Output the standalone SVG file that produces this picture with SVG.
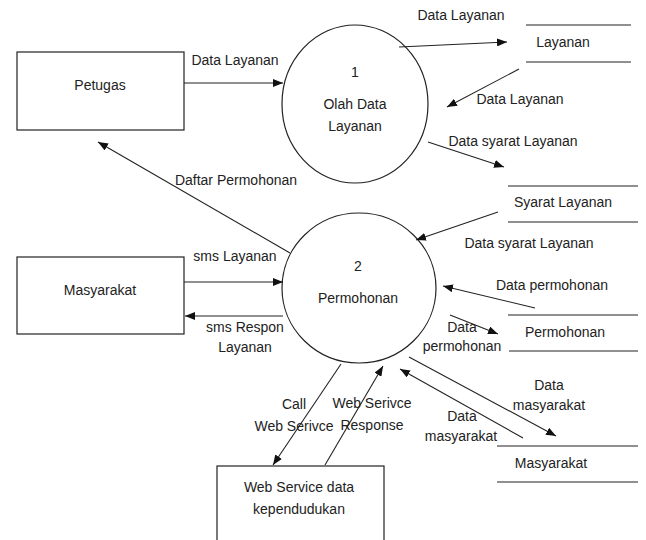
<svg xmlns="http://www.w3.org/2000/svg" width="646" height="540" viewBox="0 0 646 540">
  <style>
    .shape { fill: #fff; stroke: #222; stroke-width: 1.2; }
    .store { stroke: #222; stroke-width: 1.2; fill: none; }
    .flow { stroke: #222; stroke-width: 1.1; fill: none; marker-end: url(#arrow); }
    text { font-family: "Liberation Sans", Arial, sans-serif; font-size: 14px; fill: #222; text-anchor: middle; }
  </style>
  <defs>
    <marker id="arrow" viewBox="0 0 10 8" refX="10" refY="4" markerWidth="10" markerHeight="8" markerUnits="userSpaceOnUse" orient="auto">
      <path d="M0,0 L10,4 L0,8 Z" fill="#111"/>
    </marker>
  </defs>
  <rect width="646" height="540" fill="#fff"/>

  <!-- external entities -->
  <g id="petugas">
    <rect class="shape" x="17" y="52" width="167" height="78"/>
    <text x="100" y="90">Petugas</text>
  </g>
  <g id="masyarakat">
    <rect class="shape" x="17" y="257" width="167" height="77"/>
    <text x="100" y="295">Masyarakat</text>
  </g>
  <g id="web-service">
    <rect class="shape" x="217" y="466" width="167" height="90"/>
    <text x="299" y="492">Web Service data</text>
    <text x="299" y="514">kependudukan</text>
  </g>

  <!-- processes -->
  <g id="proses-1">
    <ellipse class="shape" cx="355" cy="104" rx="73" ry="79"/>
    <text x="355" y="77">1</text>
    <text x="355" y="109">Olah Data</text>
    <text x="355" y="131">Layanan</text>
  </g>
  <g id="proses-2">
    <ellipse class="shape" cx="359" cy="288" rx="77" ry="75"/>
    <text x="358" y="271">2</text>
    <text x="358" y="303">Permohonan</text>
  </g>

  <!-- data stores -->
  <g id="store-layanan">
    <path class="store" d="M526,25 H631 M526,62 H631"/>
    <text x="563" y="47">Layanan</text>
  </g>
  <g id="store-syarat">
    <path class="store" d="M508,186 H638 M508,222 H638"/>
    <text x="563" y="207">Syarat Layanan</text>
  </g>
  <g id="store-permohonan">
    <path class="store" d="M508,315 H638 M509,351 H638"/>
    <text x="565" y="337">Permohonan</text>
  </g>
  <g id="store-masyarakat">
    <path class="store" d="M497,446 H638 M497,482 H638"/>
    <text x="551" y="468">Masyarakat</text>
  </g>

  <!-- data flows -->
  <g id="connectors">
    <line class="flow" x1="184" y1="83" x2="283" y2="83"/>
    <line class="flow" x1="399" y1="47" x2="507" y2="42"/>
    <line class="flow" x1="519" y1="69" x2="447" y2="107"/>
    <line class="flow" x1="428" y1="142" x2="504" y2="167"/>
    <line class="flow" x1="498" y1="212" x2="416" y2="240"/>
    <line class="flow" x1="290" y1="253" x2="98" y2="142"/>
    <line class="flow" x1="184" y1="282" x2="283" y2="282"/>
    <line class="flow" x1="283" y1="316" x2="185" y2="316"/>
    <line class="flow" x1="535" y1="308" x2="443" y2="286"/>
    <line class="flow" x1="450" y1="315" x2="498" y2="334"/>
    <line class="flow" x1="341" y1="364" x2="273" y2="465"/>
    <line class="flow" x1="325" y1="465" x2="383" y2="366"/>
    <line class="flow" x1="409" y1="357" x2="556" y2="436"/>
    <line class="flow" x1="523" y1="438" x2="400" y2="369"/>

    <text x="235" y="65">Data Layanan</text>
    <text x="461" y="20">Data Layanan</text>
    <text x="520" y="104">Data Layanan</text>
    <text x="513" y="146">Data syarat Layanan</text>
    <text x="529" y="248">Data syarat Layanan</text>
    <text x="236" y="185">Daftar Permohonan</text>
    <text x="235" y="261">sms Layanan</text>
    <text x="245" y="332">sms Respon</text>
    <text x="245" y="352">Layanan</text>
    <text x="552" y="290">Data permohonan</text>
    <text x="462" y="332">Data</text>
    <text x="462" y="351">permohonan</text>
    <text x="294" y="409">Call</text>
    <text x="294" y="431">Web Serivce</text>
    <text x="372" y="408">Web Serivce</text>
    <text x="372" y="430">Response</text>
    <text x="549" y="390">Data</text>
    <text x="549" y="410">masyarakat</text>
    <text x="462" y="421">Data</text>
    <text x="461" y="441">masyarakat</text>
  </g>
</svg>
